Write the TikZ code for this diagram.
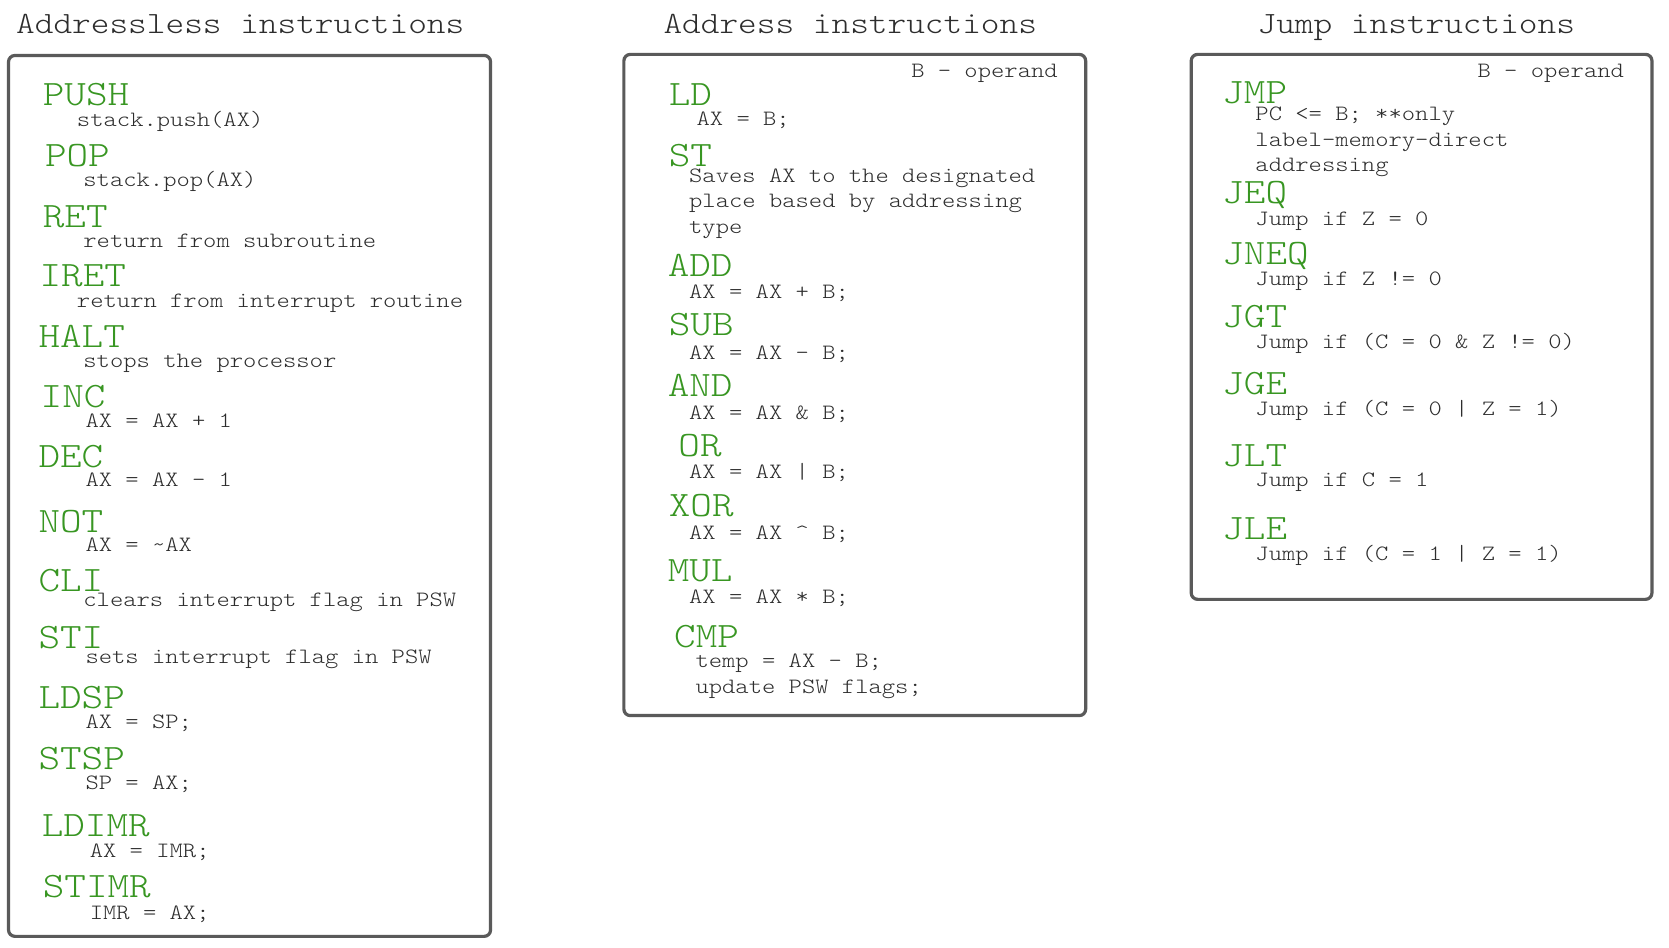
\documentclass[tikz,border=0pt]{standalone}
\usepackage{fontspec}
\newfontfamily\lmml[FakeStretch=1.15]{Latin Modern Mono Light}
\newfontfamily\lmmd[FakeStretch=1.16]{Latin Modern Mono Light}
\definecolor{mn}{RGB}{56,150,34}
\definecolor{tx}{RGB}{45,45,45}
\definecolor{bx}{RGB}{90,90,90}
\tikzset{
 mnem/.style={anchor=base west, inner sep=0pt, text=mn, font=\lmml\fontsize{33.5}{36}\selectfont},
 desc/.style={anchor=base west, inner sep=0pt, text=tx, font=\lmmd\fontsize{20.5}{24}\selectfont},
 opnd/.style={anchor=base east, inner sep=0pt, text=tx, font=\lmmd\fontsize{20.5}{24}\selectfont},
 ttl/.style={anchor=base west, inner sep=0pt, text=tx, font=\lmml\fontsize{29}{32}\selectfont},
 panel/.style={draw=bx, line width=3pt, rounded corners=6pt}
}
\begin{document}
\begin{tikzpicture}[x=1pt,y=-1pt]
\useasboundingbox[fill=white] (0,0) rectangle (1565,888);
% titles
\node[ttl] (t1) at (15,31) {Addressless instructions};
\node[ttl] (t2) at (622,31) {Address instructions};
\node[ttl] (t3) at (1179,31) {Jump instructions};
% panels
\draw[panel] (8,52) rectangle (460,878);
\draw[panel] (585,51) rectangle (1018,671);
\draw[panel] (1117,51) rectangle (1549,562);
% left panel
\node[mnem] (push) at (40,99) {PUSH};
\node[desc] (pushd) at (72,119) {stack.push(AX)};
\node[mnem] (pop) at (42,156) {POP};
\node[desc] (popd) at (78,175) {stack.pop(AX)};
\node[mnem] (ret) at (40,213) {RET};
\node[desc] (retd) at (78,232) {return from subroutine};
\node[mnem] (iret) at (37,269) {IRET};
\node[desc] (iretd) at (72,288) {return from interrupt routine};
\node[mnem] (halt) at (36,326) {HALT};
\node[desc] (haltd) at (78,345) {stops the processor};
\node[mnem] (inc) at (38,382) {INC};
\node[desc] (incd) at (80,401) {AX = AX + 1};
\node[mnem] (dec) at (36,438) {DEC};
\node[desc] (decd) at (80,456) {AX = AX - 1};
\node[mnem] (not) at (36,499) {NOT};
\node[desc] (notd) at (80,517) {AX = \textasciitilde AX};
\node[mnem] (cli) at (36,555) {CLI};
\node[desc] (clid) at (78,569) {clears interrupt flag in PSW};
\node[mnem] (sti) at (36,608) {STI};
\node[desc] (stid) at (80,622) {sets interrupt flag in PSW};
\node[mnem] (ldsp) at (36,664) {LDSP};
\node[desc] (ldspd) at (80,683) {AX = SP;};
\node[mnem] (stsp) at (36,722) {STSP};
\node[desc] (stspd) at (80,740) {SP = AX;};
\node[mnem] (ldimr) at (39,784) {LDIMR};
\node[desc] (ldimrd) at (84,804) {AX = IMR;};
\node[mnem] (stimr) at (40,842) {STIMR};
\node[desc] (stimrd) at (84,862) {IMR = AX;};
% middle panel
\node[opnd] (bop1) at (992,73) {B - operand};
\node[mnem] (ld) at (627,99) {LD};
\node[desc] (ldd) at (653,118) {AX = B;};
\node[mnem] (st) at (627,156) {ST};
\node[desc] (std1) at (646,171) {Saves AX to the designated};
\node[desc] (std2) at (646,195) {place based by addressing};
\node[desc] (std3) at (646,219) {type};
\node[mnem] (add) at (626,259) {ADD};
\node[desc] (addd) at (646,280) {AX = AX + B;};
\node[mnem] (sub) at (627,315) {SUB};
\node[desc] (subd) at (646,337) {AX = AX - B;};
\node[mnem] (and) at (626,372) {AND};
\node[desc] (andd) at (646,393) {AX = AX \& B;};
\node[mnem] (or) at (636,428) {OR};
\node[desc] (ord) at (646,449) {AX = AX | B;};
\node[mnem] (xor) at (627,484) {XOR};
\node[desc] (xord) at (646,506) {AX = AX \textasciicircum\ B;};
\node[mnem] (mul) at (626,545) {MUL};
\node[desc] (muld) at (646,566) {AX = AX * B;};
\node[mnem] (cmp) at (632,607) {CMP};
\node[desc] (cmpd1) at (652,626) {temp = AX - B;};
\node[desc] (cmpd2) at (652,650) {update PSW flags;};
% right panel
\node[opnd] (bop2) at (1523,73) {B - operand};
\node[mnem] (jmp) at (1146,97) {JMP};
\node[desc] (jmpd1) at (1177,113) {PC <= B; **only};
\node[desc] (jmpd2) at (1177,137) {label-memory-direct};
\node[desc] (jmpd3) at (1177,161) {addressing};
\node[mnem] (jeq) at (1146,191) {JEQ};
\node[desc] (jeqd) at (1177,211) {Jump if Z = 0};
\node[mnem] (jneq) at (1146,248) {JNEQ};
\node[desc] (jneqd) at (1177,268) {Jump if Z != 0};
\node[mnem] (jgt) at (1146,307) {JGT};
\node[desc] (jgtd) at (1177,327) {Jump if (C = 0 \& Z != 0)};
\node[mnem] (jge) at (1146,370) {JGE};
\node[desc] (jged) at (1177,390) {Jump if (C = 0 | Z = 1)};
\node[mnem] (jlt) at (1146,437) {JLT};
\node[desc] (jltd) at (1177,456) {Jump if C = 1};
\node[mnem] (jle) at (1146,506) {JLE};
\node[desc] (jled) at (1177,526) {Jump if (C = 1 | Z = 1)};
\end{tikzpicture}
\end{document}
